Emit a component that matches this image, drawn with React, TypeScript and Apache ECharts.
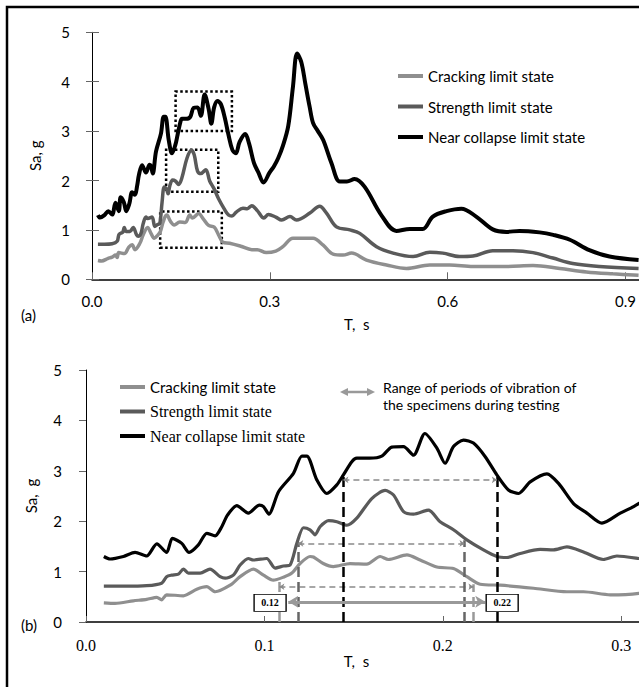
import React, { useEffect, useRef } from "react";
import * as echarts from "echarts";

// ---------- data ----------
const periodsNC = [0.010, 0.0135, 0.021, 0.0275, 0.034, 0.0397, 0.0452, 0.0484, 0.0537, 0.0578, 0.063, 0.0677, 0.0724, 0.0761, 0.0793, 0.0845, 0.091, 0.0972, 0.0995, 0.1025, 0.108, 0.1163, 0.121, 0.1238, 0.1294, 0.135, 0.1406, 0.1443, 0.149, 0.1518, 0.159, 0.1658, 0.1714, 0.178, 0.1836, 0.190, 0.1967, 0.2013, 0.206, 0.2116, 0.2172, 0.2238, 0.2303, 0.2368, 0.2425, 0.249, 0.2584, 0.2649, 0.2733, 0.2808, 0.2892, 0.2995, 0.307, 0.314, 0.322, 0.331, 0.339, 0.346, 0.353, 0.360, 0.367, 0.373, 0.381, 0.390, 0.404, 0.418, 0.430, 0.443, 0.460, 0.488, 0.5135, 0.536, 0.558, 0.575, 0.598, 0.623, 0.648, 0.676, 0.699, 0.721, 0.755, 0.778, 0.806, 0.839, 0.873, 0.922];
const saNC = [1.30, 1.25, 1.30, 1.38, 1.31, 1.55, 1.38, 1.66, 1.56, 1.38, 1.53, 1.76, 1.71, 1.89, 2.12, 2.31, 2.16, 2.32, 2.29, 2.14, 2.59, 2.95, 3.29, 3.29, 2.82, 2.55, 2.72, 2.92, 3.18, 3.25, 3.25, 3.29, 3.47, 3.48, 3.31, 3.74, 3.45, 3.15, 3.48, 3.61, 3.55, 3.28, 2.92, 2.62, 2.55, 2.78, 2.94, 2.75, 2.35, 2.16, 1.96, 2.16, 2.29, 2.45, 2.70, 3.10, 3.90, 4.57, 4.40, 3.95, 3.50, 3.16, 3.00, 2.82, 2.35, 1.98, 1.98, 2.03, 1.87, 1.30, 0.98, 1.02, 1.02, 1.27, 1.38, 1.43, 1.27, 1.01, 0.96, 0.98, 0.95, 0.90, 0.80, 0.59, 0.46, 0.39];

const periodsST = [0.010, 0.021, 0.034, 0.0424, 0.0452, 0.048, 0.0518, 0.0546, 0.0574, 0.064, 0.0695, 0.0752, 0.078, 0.0826, 0.0864, 0.091, 0.0938, 0.1013, 0.106, 0.1107, 0.1144, 0.1182, 0.1219, 0.1256, 0.1284, 0.1312, 0.136, 0.1406, 0.1462, 0.1518, 0.1602, 0.1677, 0.1724, 0.178, 0.1836, 0.192, 0.1985, 0.206, 0.2135, 0.2228, 0.2303, 0.236, 0.2434, 0.2546, 0.262, 0.2696, 0.2789, 0.290, 0.2976, 0.310, 0.320, 0.334, 0.345, 0.3675, 0.384, 0.3956, 0.4124, 0.435, 0.4517, 0.48, 0.508, 0.5416, 0.5697, 0.592, 0.62, 0.6427, 0.676, 0.71, 0.744, 0.7775, 0.811, 0.856, 0.922];
const saST = [0.71, 0.71, 0.72, 0.77, 0.90, 0.93, 0.95, 1.05, 0.97, 0.97, 1.05, 0.90, 0.87, 0.93, 1.13, 1.26, 1.23, 1.26, 1.07, 1.11, 1.13, 1.56, 1.87, 1.83, 1.73, 1.89, 2.01, 1.99, 1.92, 2.06, 2.45, 2.61, 2.52, 2.19, 2.14, 2.22, 1.99, 1.83, 1.63, 1.43, 1.30, 1.28, 1.36, 1.44, 1.43, 1.49, 1.39, 1.24, 1.31, 1.26, 1.20, 1.27, 1.20, 1.34, 1.48, 1.34, 1.06, 1.00, 0.93, 0.66, 0.53, 0.46, 0.55, 0.53, 0.46, 0.47, 0.58, 0.58, 0.54, 0.43, 0.32, 0.26, 0.22];

const periodsCR = [0.010, 0.0163, 0.0265, 0.034, 0.0397, 0.0424, 0.0452, 0.0546, 0.0621, 0.0677, 0.0724, 0.0808, 0.0864, 0.0938, 0.0995, 0.105, 0.1107, 0.1154, 0.120, 0.1256, 0.1275, 0.133, 0.1387, 0.148, 0.1574, 0.1649, 0.1695, 0.1799, 0.1873, 0.1967, 0.206, 0.2135, 0.221, 0.2322, 0.2509, 0.2696, 0.2789, 0.2939, 0.310, 0.322, 0.339, 0.3618, 0.373, 0.390, 0.4067, 0.4236, 0.4377, 0.463, 0.4967, 0.5304, 0.5697, 0.6034, 0.6427, 0.699, 0.744, 0.789, 0.834, 0.8786, 0.922];
const saCR = [0.38, 0.37, 0.42, 0.45, 0.49, 0.44, 0.54, 0.52, 0.65, 0.70, 0.60, 0.73, 0.90, 1.05, 0.93, 0.83, 0.89, 0.97, 1.16, 1.30, 1.29, 1.16, 1.10, 1.16, 1.15, 1.30, 1.24, 1.33, 1.23, 1.09, 1.06, 0.90, 0.75, 0.73, 0.67, 0.60, 0.60, 0.54, 0.57, 0.66, 0.83, 0.83, 0.83, 0.69, 0.51, 0.49, 0.53, 0.39, 0.29, 0.22, 0.29, 0.29, 0.26, 0.26, 0.28, 0.22, 0.15, 0.11, 0.08];

const seriesNames = ["Cracking limit state", "Strength limit state", "Near collapse limit state"];
const yTicksTop = [0, 1, 2, 3, 4, 5];

// dotted boxes (panel a): [Tmin, Tmax, Samin, Samax] for cracking, strength, near collapse
const boxT0 = [0.115, 0.125, 0.141];
const boxT1 = [0.219, 0.213, 0.236];
const boxSa0 = [0.64, 1.77, 3.0];
const boxSa1 = [1.37, 2.62, 3.8];

// periods ranges (panel b): cracking, strength, near collapse
const rangeStartT = [0.1084, 0.119, 0.1443];
const rangeEndT = [0.2172, 0.2122, 0.2303];
const rangeLevel = [0.70, 1.56, 2.82];
const rangeTopLeft = [0.84, 1.58, 2.92];
const rangeTopRight = [0.75, 1.62, 2.94];
const overallRangeT = [0.1134, 0.2238];
const overallRangeSa = 0.40;
const overallLabels = ["0.12", "0.22"];
const overallLabelT = [0.1032, 0.2333];

const colors = ["#8f8f8f", "#5a5a5a", "#000000"];
const SANS = "Lato, 'Noto Sans', sans-serif";
const SERIF = "'Liberation Serif', 'DejaVu Serif', serif";

const pairs = (t: number[], s: number[]) => t.map((v, i) => [v, s[i]]);

export default function App() {
  const ref = useRef<HTMLDivElement>(null);

  useEffect(() => {
    if (!ref.current) return;
    const chart = echarts.init(ref.current, undefined, { renderer: "svg" });

    const seriesData = [pairs(periodsCR, saCR), pairs(periodsST, saST), pairs(periodsNC, saNC)];
    const rangeColors = ["#999999", "#666666", "#000000"];

    const markLinesB: any[] = [];
    for (let i = 0; i < 3; i++) {
      const lc = rangeColors[i];
      markLinesB.push([
        { coord: [rangeStartT[i], 0], symbol: "none", lineStyle: { color: lc, width: 2.5, type: [10, 5] } },
        { coord: [rangeStartT[i], rangeTopLeft[i]], symbol: "none" },
      ]);
      markLinesB.push([
        { coord: [rangeEndT[i], 0], symbol: "none", lineStyle: { color: lc, width: 2.5, type: [10, 5] } },
        { coord: [rangeEndT[i], rangeTopRight[i]], symbol: "none" },
      ]);
      markLinesB.push([
        { coord: [rangeStartT[i], rangeLevel[i]], symbol: "arrow", symbolSize: 5, lineStyle: { color: "#8a8a8a", width: 1.5, type: [6, 4] } },
        { coord: [rangeEndT[i], rangeLevel[i]], symbol: "arrow", symbolSize: 5 },
      ]);
    }
    markLinesB.push([
      { coord: [overallRangeT[0], overallRangeSa], symbol: "arrow", symbolSize: [9, 10], lineStyle: { color: "#999999", width: 3, type: "solid" } },
      { coord: [overallRangeT[1], overallRangeSa], symbol: "arrow", symbolSize: [9, 10] },
    ]);

    const topSeries = seriesNames.map((name, i) => ({
      name,
      type: "line",
      xAxisIndex: 0,
      yAxisIndex: 0,
      data: seriesData[i],
      symbol: "none",
      smooth: 0.35,
      lineStyle: { color: colors[i], width: i === 2 ? 4 : 3.5 },
      itemStyle: { color: colors[i] },
      z: 3 + i,
      markArea: {
        silent: true,
        itemStyle: { color: "rgba(0,0,0,0)", borderColor: "#000", borderWidth: 2.5, borderType: "dotted" },
        data: [[{ coord: [boxT0[i], boxSa0[i]] }, { coord: [boxT1[i], boxSa1[i]] }]],
      },
    }));

    const bottomSeries: any[] = seriesNames.map((name, i) => ({
      name,
      type: "line",
      xAxisIndex: 1,
      yAxisIndex: 2,
      data: seriesData[i],
      symbol: "none",
      smooth: 0.25,
      lineStyle: { color: colors[i], width: 3.2 },
      itemStyle: { color: colors[i] },
      z: 3 + i,
    }));
    bottomSeries[0].markLine = {
      silent: true,
      label: { show: false },
      data: markLinesB,
      z: 10,
    };
    bottomSeries[0].markPoint = {
      silent: true,
      symbol: "rect",
      symbolSize: [32, 17],
      itemStyle: { color: "#ffffff", borderColor: "#000000", borderWidth: 1 },
      label: {
        show: true,
        position: "inside",
        formatter: (p: any) => p.name,
        fontFamily: SERIF,
        fontWeight: "bold",
        fontSize: 10,
        color: "#000",
      },
      data: overallLabels.map((l, k) => ({ name: l, coord: [overallLabelT[k], overallRangeSa - 0.02] })),
      z: 12,
    };

    const fmt1 = (v: number) => v.toFixed(1);
    const legendIcon = "path://M0,0 L25,0 L25,4 L0,4 Z";

    chart.setOption({
      animation: false,
      backgroundColor: "#ffffff",
      grid: [
        { left: 92, top: 32.3, width: 547, height: 247 },
        { left: 86, top: 370, width: 553, height: 252 },
      ],
      legend: [
        {
          orient: "vertical",
          left: 393,
          top: 63,
          itemWidth: 25,
          itemHeight: 16,
          itemGap: 14.5,
          selectedMode: false,
          data: seriesNames.map((n, i) => ({ name: n, icon: legendIcon, itemStyle: { color: colors[i] } })),
          textStyle: { fontFamily: SANS, fontSize: 15, color: "#000", lineHeight: 16 },
        },
        {
          orient: "vertical",
          left: 115,
          top: 374,
          itemWidth: 25,
          itemHeight: 16,
          itemGap: 8.5,
          selectedMode: false,
          data: seriesNames.map((n, i) => ({ name: n, icon: legendIcon, itemStyle: { color: colors[i] } })),
          formatter: (name: string) => (name === seriesNames[0] ? `{s|${name}}` : `{r|${name}}`),
          textStyle: {
            color: "#000",
            lineHeight: 16,
            rich: {
              s: { fontFamily: SANS, fontSize: 15, color: "#000", lineHeight: 16 },
              r: { fontFamily: SERIF, fontSize: 16, color: "#000", lineHeight: 16 },
            },
          },
        },
      ],
      xAxis: [
        {
          type: "value",
          gridIndex: 0,
          min: 0,
          max: 0.922,
          interval: 0.3,
          name: "T,  s",
          nameLocation: "middle",
          nameGap: 37,
          nameTextStyle: { fontFamily: SANS, fontSize: 15, color: "#000", padding: [0, 17, 0, 0] },
          axisLine: { show: true, onZero: false, lineStyle: { color: "#000", width: 1.5 } },
          axisTick: { show: true, inside: true, length: 7, lineStyle: { color: "#666", width: 1 } },
          axisLabel: { fontFamily: SANS, fontSize: 15, color: "#000", margin: 14, formatter: fmt1, showMaxLabel: false },
          splitLine: { show: false },
        },
        {
          type: "value",
          gridIndex: 1,
          min: 0,
          max: 0.310,
          interval: 0.1,
          name: "T,  s",
          nameLocation: "middle",
          nameGap: 30,
          nameTextStyle: { fontFamily: SANS, fontSize: 15, color: "#000", padding: [0, 12, 0, 0] },
          axisLine: { show: true, onZero: false, lineStyle: { color: "#000", width: 1.5 } },
          axisTick: { show: true, inside: true, length: 6, lineStyle: { color: "#666", width: 1 } },
          axisLabel: { fontFamily: SERIF, fontSize: 16, color: "#000", margin: 15, formatter: fmt1, showMaxLabel: false },
          splitLine: { show: false },
        },
      ],
      yAxis: [
        {
          type: "value",
          gridIndex: 0,
          min: yTicksTop[0],
          max: yTicksTop[yTicksTop.length - 1],
          interval: 1,
          name: "Sa, g",
          nameLocation: "middle",
          nameGap: 50,
          nameRotate: 90,
          nameTextStyle: { fontFamily: SANS, fontSize: 15, color: "#000" },
          axisLine: { show: true, lineStyle: { color: "#000", width: 1 } },
          axisTick: { show: true, inside: false, length: 6, lineStyle: { color: "#666", width: 1 } },
          axisLabel: { fontFamily: SANS, fontSize: 15, color: "#000", margin: 22 },
          splitLine: { show: false },
        },
        {
          type: "value",
          gridIndex: 0,
          min: yTicksTop[0],
          max: yTicksTop[yTicksTop.length - 1],
          interval: 1,
          position: "left",
          axisLine: { show: false },
          axisTick: { show: true, inside: true, length: 7, lineStyle: { color: "#666", width: 1 } },
          axisLabel: { show: false },
          splitLine: { show: false },
        },
        {
          type: "value",
          gridIndex: 1,
          min: yTicksTop[0],
          max: yTicksTop[yTicksTop.length - 1],
          interval: 1,
          name: "Sa,  g",
          nameLocation: "middle",
          nameGap: 48,
          nameRotate: 90,
          nameTextStyle: { fontFamily: SANS, fontSize: 15, color: "#000" },
          axisLine: { show: true, lineStyle: { color: "#000", width: 1 } },
          axisTick: { show: true, inside: false, length: 7, lineStyle: { color: "#666", width: 1 } },
          axisLabel: { fontFamily: SANS, fontSize: 15, color: "#000", margin: 24 },
          splitLine: { show: false },
        },
      ],
      graphic: [
        {
          type: "polyline",
          shape: { points: [[7, 690], [7, 7], [640, 7]] },
          style: { stroke: "#000", lineWidth: 2.5, fill: null },
          silent: true,
        },
        { type: "text", left: 21, top: 307, style: { text: "(a)", fontFamily: SANS, fontSize: 15, fill: "#000" } },
        { type: "text", left: 21, top: 617, style: { text: "(b)", fontFamily: SANS, fontSize: 15, fill: "#000" } },
        {
          type: "group",
          silent: true,
          children: [
            { type: "line", shape: { x1: 346, y1: 392, x2: 369, y2: 392 }, style: { stroke: "#999", lineWidth: 2.5 } },
            { type: "polygon", shape: { points: [[340, 392], [348, 388], [348, 396]] }, style: { fill: "#999" } },
            { type: "polygon", shape: { points: [[375, 392], [367, 388], [367, 396]] }, style: { fill: "#999" } },
            {
              type: "text",
              x: 383,
              y: 378.5,
              style: {
                text: "Range of periods of vibration of\nthe specimens during testing",
                fontFamily: SANS,
                fontSize: 14,
                lineHeight: 17,
                fill: "#000",
              },
            },
          ],
        },
      ],
      series: [...topSeries, ...bottomSeries],
    });

    return () => chart.dispose();
  }, []);

  return <div ref={ref} style={{ position: "fixed", left: 0, top: 0, width: 639, height: 687, background: "#fff" }} />;
}
